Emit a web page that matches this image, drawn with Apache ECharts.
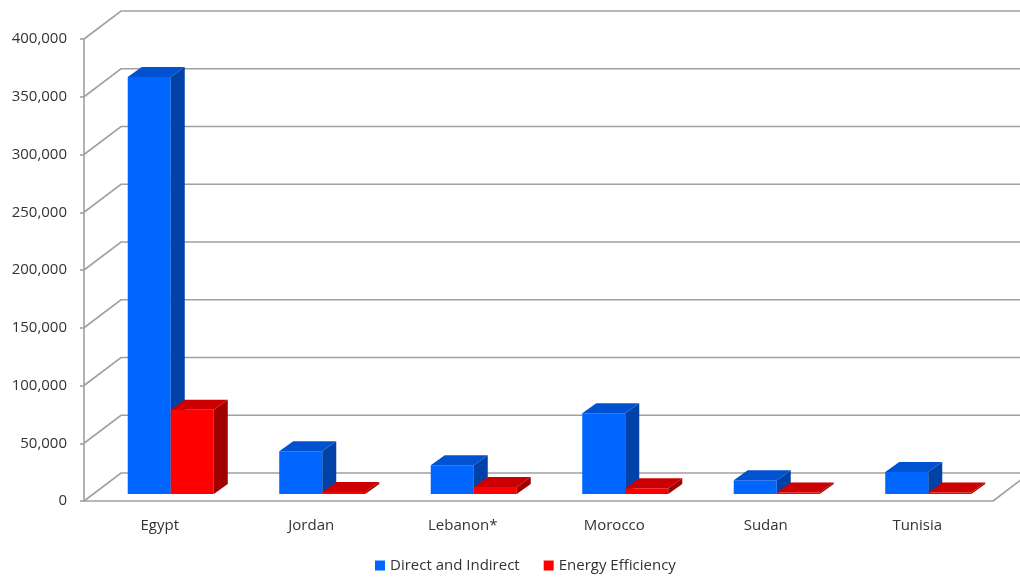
<!DOCTYPE html>
<html>
<head>
<meta charset="utf-8">
<script src="https://cdn.jsdelivr.net/npm/echarts@6/dist/echarts.min.js"></script>
<style>
  html, body { margin: 0; padding: 0; background: #fff; }
  #chart { width: 1020px; height: 578px; }
</style>
</head>
<body>
<div id="chart"></div>
<script>
// data
const categories = ['Egypt', 'Jordan', 'Lebanon*', 'Morocco', 'Sudan', 'Tunisia'];
const directIndirect = [361000, 37000, 25000, 70000, 12000, 19000];
const energyEfficiency = [73000, 1700, 6000, 5000, 1000, 1000];
const yTicks = [0, 50000, 100000, 150000, 200000, 250000, 300000, 350000, 400000];

// oblique depth of the 3d box
const DX = 37, DY = -28;
// bars sit a bit into the depth
const OX = 11, OY = -7;
const BDX = 14, BDY = -10;
const gridColor = '#a0a0a0';
const font = 'Open Sans';

const chart = echarts.init(document.getElementById('chart'));

function gridRender(params, api) {
  const cs = params.coordSys;
  const y = api.coord([0, api.value(0)])[1];
  const x0 = cs.x;
  return {
    type: 'polyline',
    shape: { points: [[x0, y], [x0 + DX, y + DY], [1030, y + DY]] },
    style: { stroke: gridColor, lineWidth: 1.6, fill: null }
  };
}

function barRender(front, top, side, leftSide) {
  return function (params, api) {
    const idx = api.value(0);
    const base = api.coord([idx, 0]);
    const tp = api.coord([idx, api.value(1)]);
    const band = api.size([1, 0])[0];
    const w = band * 0.284;
    const x0 = base[0] + (leftSide ? -w : 0) + OX;
    const x1 = x0 + w;
    const yb = base[1] + OY;
    const yt = Math.min(tp[1] + OY, yb - 1.5);
    return {
      type: 'group',
      children: [
        { type: 'polygon', shape: { points: [[x0, yb], [x0, yt], [x1, yt], [x1, yb]] }, style: { fill: front } },
        { type: 'polygon', shape: { points: [[x0, yt], [x0 + BDX, yt + BDY], [x1 + BDX, yt + BDY], [x1, yt]] }, style: { fill: top } },
        { type: 'polygon', shape: { points: [[x1, yt], [x1 + BDX, yt + BDY], [x1 + BDX, yb + BDY], [x1, yb]] }, style: { fill: side } }
      ]
    };
  };
}

// right edge of the floor
function floorRender(params, api) {
  const cs = params.coordSys;
  const x = cs.x + cs.width, y = cs.y + cs.height;
  return {
    type: 'line',
    shape: { x1: x, y1: y, x2: x + DX, y2: y + DY },
    style: { stroke: gridColor, lineWidth: 1.6 }
  };
}

chart.setOption({
  animation: false,
  textStyle: { fontFamily: font },
  grid: { left: 84, right: 27, top: 39, bottom: 77 },
  legend: {
    bottom: 0,
    left: 370,
    itemWidth: 10,
    itemHeight: 10,
    itemGap: 24,
    itemTextGap: 5,
    icon: 'rect',
    textStyle: { fontFamily: font, fontSize: 15, color: '#333' },
    data: ['Direct and Indirect', 'Energy Efficiency']
  },
  xAxis: {
    type: 'category',
    data: categories,
    axisLine: { lineStyle: { color: gridColor, width: 1.6 } },
    axisTick: { length: 5, lineStyle: { color: gridColor, width: 1.6 } },
    axisLabel: { color: '#333', fontSize: 15, margin: 17, fontFamily: font }
  },
  yAxis: {
    type: 'value',
    min: 0,
    max: 400000,
    interval: 50000,
    axisLine: { show: true, lineStyle: { color: gridColor, width: 1.6 } },
    axisTick: { show: true, length: 4, lineStyle: { color: gridColor, width: 1.6 } },
    splitLine: { show: false },
    axisLabel: {
      color: '#333', fontSize: 15, margin: 17, fontFamily: font,
      formatter: v => v.toLocaleString('en-US')
    }
  },
  series: [
    {
      type: 'custom', name: 'grid', silent: true, z: 1,
      renderItem: gridRender,
      data: yTicks.map(v => [v])
    },
    {
      type: 'custom', name: 'floor', silent: true, z: 1,
      renderItem: floorRender,
      data: [[0]]
    },
    {
      type: 'custom', name: 'Direct and Indirect', z: 3,
      itemStyle: { color: '#0066ff' },
      renderItem: barRender('#0066ff', '#0052d0', '#0042a8', true),
      data: directIndirect.map((v, i) => [i, v])
    },
    {
      type: 'custom', name: 'Energy Efficiency', z: 3,
      itemStyle: { color: '#ff0000' },
      renderItem: barRender('#ff0000', '#cc0000', '#a00000', false),
      data: energyEfficiency.map((v, i) => [i, v])
    }
  ]
});
</script>
</body>
</html>
